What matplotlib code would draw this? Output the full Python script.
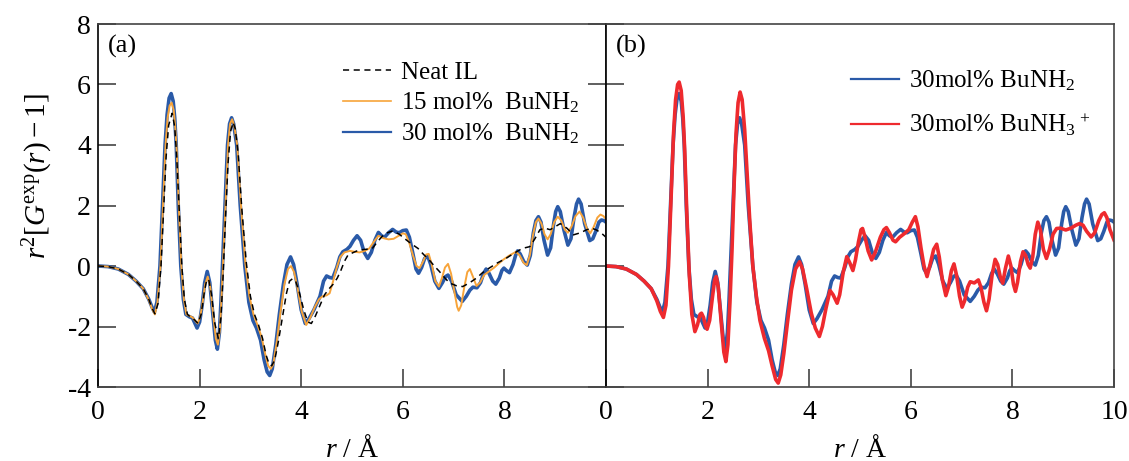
import matplotlib
matplotlib.use("Agg")
import matplotlib.pyplot as plt
from matplotlib.lines import Line2D
import numpy as np

plt.rcParams['font.family'] = ['Liberation Serif', 'DejaVu Serif']
plt.rcParams['mathtext.fontset'] = 'custom'
plt.rcParams['mathtext.rm'] = 'Liberation Serif'
plt.rcParams['mathtext.it'] = 'Liberation Serif:italic'
plt.rcParams['axes.unicode_minus'] = False

# --- data: (r, r^2[G(r)-1]) ---
neat_pts = [(0, 0), (0.2, -0.02), (0.4, -0.1), (0.6, -0.28), (0.75, -0.5), (0.89, -0.75), (1.0, -1.1),
            (1.06, -1.38), (1.12, -1.58), (1.18, -1.25), (1.24, 0.0), (1.29, 1.8), (1.34, 3.6), (1.39, 4.65),
            (1.46, 5.05), (1.51, 4.6), (1.55, 3.6), (1.6, 1.8), (1.65, 0.0), (1.7, -1.1), (1.76, -1.6),
            (1.83, -1.7), (1.9, -1.78), (1.97, -1.9), (2.03, -1.6), (2.09, -0.9), (2.14, -0.45), (2.18, -0.45),
            (2.23, -0.9), (2.3, -1.9), (2.37, -2.4), (2.42, -1.7), (2.46, -0.4), (2.51, 1.6), (2.56, 3.4),
            (2.61, 4.45), (2.66, 4.75), (2.7, 4.55), (2.76, 3.7), (2.83, 1.9), (2.92, 0.1), (3.0, -1.0),
            (3.08, -1.6), (3.16, -1.95), (3.24, -2.4), (3.31, -2.95), (3.37, -3.25), (3.42, -3.3), (3.48, -3.1),
            (3.55, -2.5), (3.63, -1.7), (3.71, -0.9), (3.77, -0.5), (3.83, -0.42), (3.89, -0.5), (3.96, -0.85),
            (4.05, -1.45), (4.13, -1.85), (4.2, -1.9), (4.28, -1.65), (4.37, -1.3), (4.46, -0.95), (4.55, -0.75),
            (4.63, -0.6), (4.71, -0.4), (4.78, -0.15), (4.85, 0.15), (4.92, 0.36), (5.03, 0.45), (5.14, 0.53),
            (5.27, 0.55), (5.4, 0.58), (5.5, 0.8), (5.6, 0.99), (5.7, 1.1), (5.8, 1.16), (5.93, 1.05),
            (6.07, 0.86), (6.18, 0.72), (6.3, 0.58), (6.41, 0.38), (6.52, 0.2), (6.62, 0.0), (6.72, -0.18),
            (6.82, -0.38), (6.92, -0.56), (7.05, -0.65), (7.18, -0.68), (7.32, -0.55), (7.45, -0.4),
            (7.57, -0.22), (7.7, -0.07), (7.86, 0.1), (8.03, 0.25), (8.17, 0.4), (8.3, 0.53), (8.4, 0.6),
            (8.5, 0.64), (8.6, 0.9), (8.7, 1.2), (8.8, 1.25), (8.9, 1.2), (9.0, 1.3), (9.1, 1.4), (9.23, 1.25),
            (9.36, 1.03), (9.5, 1.1), (9.62, 1.2), (9.72, 1.25), (9.8, 1.2), (9.9, 1.1), (10.0, 0.95)]

bu15_pts = [(0, 0), (0.2, -0.02), (0.4, -0.1), (0.6, -0.28), (0.75, -0.5), (0.89, -0.75), (1.0, -1.12),
            (1.06, -1.4), (1.12, -1.6), (1.17, -1.2), (1.23, 0.0), (1.28, 2.0), (1.33, 4.0), (1.37, 4.9),
            (1.41, 5.3), (1.45, 5.4), (1.49, 5.15), (1.52, 4.6), (1.55, 3.8), (1.59, 2.0), (1.64, 0.0),
            (1.69, -1.1), (1.74, -1.6), (1.8, -1.65), (1.86, -1.7), (1.91, -1.8), (1.96, -1.9), (2.01, -1.7),
            (2.06, -1.2), (2.11, -0.6), (2.16, -0.35), (2.21, -0.7), (2.27, -1.65), (2.32, -2.4), (2.36, -2.6),
            (2.4, -2.1), (2.43, -1.1), (2.46, 0.0), (2.51, 2.0), (2.56, 4.0), (2.6, 4.7), (2.64, 4.85),
            (2.68, 4.65), (2.74, 4.0), (2.81, 2.1), (2.9, 0.1), (2.98, -1.0), (3.06, -1.6), (3.14, -1.95),
            (3.22, -2.35), (3.29, -2.9), (3.35, -3.3), (3.4, -3.4), (3.45, -3.25), (3.52, -2.5), (3.59, -1.55),
            (3.67, -0.6), (3.74, -0.1), (3.8, 0.0), (3.86, -0.2), (3.93, -0.75), (4.01, -1.5), (4.1, -1.95),
            (4.18, -1.7), (4.27, -1.35), (4.35, -1.1), (4.42, -1.0), (4.5, -0.97), (4.56, -0.9), (4.62, -0.55),
            (4.7, -0.05), (4.77, 0.3), (4.85, 0.45), (4.96, 0.5), (5.05, 0.47), (5.15, 0.45), (5.25, 0.5),
            (5.34, 0.58), (5.43, 0.8), (5.52, 1.0), (5.62, 0.92), (5.72, 0.88), (5.82, 0.9), (5.92, 1.0),
            (6.0, 1.08), (6.06, 1.05), (6.13, 0.75), (6.2, 0.35), (6.27, 0.0), (6.33, -0.07), (6.4, 0.15),
            (6.46, 0.38), (6.51, 0.4), (6.57, 0.05), (6.64, -0.5), (6.71, -0.68), (6.77, -0.4), (6.83, -0.05),
            (6.89, 0.07), (6.95, -0.25), (7.02, -0.9), (7.07, -1.35), (7.1, -1.48), (7.15, -1.3), (7.21, -0.7),
            (7.27, -0.2), (7.32, -0.1), (7.38, -0.35), (7.45, -0.66), (7.52, -0.55), (7.6, -0.3), (7.68, -0.2),
            (7.8, -0.05), (7.9, 0.1), (7.97, 0.2), (8.1, 0.35), (8.23, 0.47), (8.3, 0.35), (8.38, 0.1),
            (8.44, 0.03), (8.5, 0.35), (8.56, 1.0), (8.62, 1.45), (8.67, 1.57), (8.73, 1.4), (8.79, 1.05),
            (8.85, 0.88), (8.91, 1.05), (8.98, 1.45), (9.05, 1.63), (9.12, 1.5), (9.19, 1.2), (9.25, 1.1),
            (9.32, 1.3), (9.4, 1.65), (9.48, 1.8), (9.55, 1.6), (9.62, 1.25), (9.69, 1.08), (9.76, 1.3),
            (9.83, 1.6), (9.89, 1.7), (9.95, 1.65), (10.0, 1.55)]

bu30_pts = [(0, 0), (0.2, -0.02), (0.4, -0.1), (0.6, -0.28), (0.75, -0.5), (0.89, -0.75), (1.0, -1.1),
            (1.06, -1.35), (1.11, -1.52), (1.16, -1.2), (1.22, 0.0), (1.27, 2.0), (1.32, 4.0), (1.36, 5.0),
            (1.4, 5.55), (1.44, 5.7), (1.48, 5.45), (1.51, 4.9), (1.54, 4.0), (1.58, 2.0), (1.63, 0.0),
            (1.68, -1.1), (1.73, -1.6), (1.8, -1.68), (1.86, -1.72), (1.91, -1.9), (1.95, -2.05), (2.0, -1.85),
            (2.05, -1.3), (2.1, -0.55), (2.15, -0.18), (2.2, -0.55), (2.26, -1.6), (2.31, -2.45), (2.35, -2.75),
            (2.39, -2.2), (2.42, -1.2), (2.45, 0.0), (2.5, 2.0), (2.55, 4.0), (2.59, 4.7), (2.63, 4.9),
            (2.67, 4.7), (2.73, 4.0), (2.8, 2.0), (2.89, 0.0), (2.97, -1.2), (3.05, -1.8), (3.12, -2.05),
            (3.2, -2.45), (3.27, -3.1), (3.33, -3.5), (3.38, -3.62), (3.43, -3.4), (3.5, -2.6), (3.57, -1.6),
            (3.65, -0.6), (3.72, 0.05), (3.79, 0.3), (3.85, 0.05), (3.92, -0.6), (4.0, -1.45), (4.08, -1.9),
            (4.15, -1.75), (4.25, -1.45), (4.37, -1.0), (4.44, -0.5), (4.5, -0.33), (4.56, -0.38), (4.62, -0.4),
            (4.7, -0.05), (4.76, 0.3), (4.82, 0.47), (4.9, 0.55), (4.96, 0.65), (5.03, 0.85), (5.1, 1.0),
            (5.17, 0.85), (5.24, 0.45), (5.31, 0.25), (5.38, 0.45), (5.45, 0.85), (5.52, 1.11), (5.58, 1.0),
            (5.64, 0.95), (5.72, 1.1), (5.8, 1.21), (5.87, 1.12), (5.93, 1.1), (6.0, 1.17), (6.07, 1.19),
            (6.13, 0.95), (6.2, 0.4), (6.26, -0.1), (6.31, -0.24), (6.37, -0.05), (6.43, 0.25), (6.49, 0.33),
            (6.55, 0.05), (6.63, -0.5), (6.71, -0.74), (6.78, -0.55), (6.84, -0.35), (6.89, -0.3), (6.96, -0.5),
            (7.05, -0.95), (7.17, -1.17), (7.25, -1.0), (7.32, -0.8), (7.38, -0.7), (7.46, -0.72), (7.53, -0.55),
            (7.59, -0.25), (7.64, -0.1), (7.7, -0.25), (7.77, -0.5), (7.83, -0.6), (7.9, -0.4), (7.95, -0.15),
            (7.99, -0.07), (8.04, -0.15), (8.1, -0.22), (8.17, 0.05), (8.22, 0.35), (8.26, 0.5), (8.31, 0.4),
            (8.38, 0.15), (8.45, 0.03), (8.51, 0.35), (8.57, 1.1), (8.62, 1.5), (8.67, 1.63), (8.72, 1.45),
            (8.78, 0.85), (8.85, 0.36), (8.91, 0.6), (8.97, 1.4), (9.01, 1.8), (9.05, 1.96), (9.1, 1.8),
            (9.17, 1.2), (9.25, 0.69), (9.31, 0.9), (9.37, 1.6), (9.42, 2.05), (9.46, 2.21), (9.51, 2.05),
            (9.58, 1.4), (9.68, 0.84), (9.74, 0.9), (9.8, 1.15), (9.86, 1.45), (9.91, 1.52), (9.96, 1.5),
            (10.0, 1.45)]

bu3p_pts = [(0, 0), (0.2, -0.02), (0.4, -0.1), (0.6, -0.28), (0.75, -0.5), (0.89, -0.75), (1.0, -1.15),
            (1.07, -1.5), (1.13, -1.7), (1.18, -1.3), (1.23, 0.0), (1.28, 2.2), (1.33, 4.4), (1.37, 5.5),
            (1.41, 6.0), (1.44, 6.08), (1.48, 5.8), (1.52, 4.9), (1.55, 3.8), (1.59, 1.8), (1.64, -0.3),
            (1.69, -1.6), (1.75, -2.17), (1.8, -1.95), (1.85, -1.6), (1.88, -1.56), (1.92, -1.7), (1.96, -2.0),
            (1.99, -2.09), (2.04, -1.8), (2.09, -1.1), (2.14, -0.45), (2.17, -0.35), (2.21, -0.7), (2.27, -1.9),
            (2.32, -2.85), (2.36, -3.16), (2.4, -2.6), (2.44, -1.2), (2.48, 0.5), (2.52, 2.6), (2.56, 4.4),
            (2.6, 5.4), (2.64, 5.75), (2.68, 5.5), (2.73, 4.5), (2.78, 3.0), (2.83, 1.5), (2.89, 0.0),
            (2.96, -1.0), (3.03, -1.8), (3.12, -2.4), (3.2, -2.8), (3.27, -3.3), (3.34, -3.75), (3.39, -3.87),
            (3.44, -3.6), (3.5, -2.9), (3.57, -1.9), (3.65, -0.8), (3.73, -0.1), (3.81, 0.14), (3.87, -0.1),
            (3.95, -0.75), (4.04, -1.55), (4.12, -2.05), (4.2, -2.33), (4.26, -2.0), (4.33, -1.4), (4.41, -0.81),
            (4.47, -0.95), (4.55, -1.23), (4.6, -0.95), (4.67, -0.2), (4.74, 0.31), (4.8, 0.1), (4.86, -0.15),
            (4.91, 0.2), (4.97, 0.8), (5.02, 1.2), (5.05, 1.24), (5.1, 0.95), (5.16, 0.5), (5.23, 0.2),
            (5.3, 0.45), (5.4, 0.95), (5.47, 1.2), (5.52, 1.27), (5.58, 1.1), (5.65, 0.85), (5.7, 0.8),
            (5.78, 0.95), (5.88, 1.08), (5.96, 1.2), (6.03, 1.45), (6.09, 1.63), (6.14, 1.3), (6.2, 0.6),
            (6.26, 0.0), (6.32, -0.35), (6.38, 0.05), (6.45, 0.55), (6.51, 0.72), (6.56, 0.3), (6.62, -0.45),
            (6.69, -0.98), (6.74, -0.7), (6.8, -0.15), (6.85, 0.07), (6.9, -0.3), (6.96, -1.0), (7.01, -1.36),
            (7.06, -1.15), (7.12, -0.7), (7.17, -0.52), (7.25, -0.56), (7.33, -0.46), (7.38, -0.7), (7.44, -1.2),
            (7.49, -1.48), (7.54, -1.1), (7.6, -0.3), (7.66, 0.22), (7.71, 0.05), (7.76, -0.35), (7.81, -0.57),
            (7.86, -0.1), (7.92, 0.33), (7.97, 0.0), (8.02, -0.6), (8.06, -0.84), (8.1, -0.55), (8.16, 0.15),
            (8.21, 0.47), (8.26, 0.35), (8.31, 0.05), (8.35, -0.07), (8.4, 0.3), (8.45, 1.05), (8.5, 1.45),
            (8.55, 1.2), (8.61, 0.55), (8.67, 0.25), (8.73, 0.55), (8.8, 1.05), (8.87, 1.24), (8.95, 1.25),
            (9.05, 1.19), (9.15, 1.25), (9.25, 1.35), (9.32, 1.4), (9.39, 1.35), (9.46, 1.15), (9.55, 0.96),
            (9.62, 1.1), (9.7, 1.5), (9.76, 1.7), (9.81, 1.76), (9.86, 1.6), (9.92, 1.2), (10.0, 0.86)]

r_neat, g_neat = np.array(neat_pts).T
r_15, g_15 = np.array(bu15_pts).T
r_30, g_30 = np.array(bu30_pts).T
r_3p, g_3p = np.array(bu3p_pts).T

xticks_a = [0, 2, 4, 6, 8]
xticks_b = [0, 2, 4, 6, 8, 10]
yticks = [-4, -2, 0, 2, 4, 6, 8]
labels_a = ['Neat IL', r'15 mol%  BuNH$_2$', r'30 mol%  BuNH$_2$']
labels_b = [r'30mol% BuNH$_2$', r'30mol% BuNH$_3$$^{\,+}$']

c_blue = '#2a5aa8'
c_orange = '#f7a43a'
c_red = '#ee2a2e'
dash = (0, (4, 3))

fig = plt.figure(figsize=(11.29, 4.61), dpi=100)
W, H = 1129, 461
ax1 = fig.add_axes([98 / W, (H - 387) / H, 508 / W, 363 / H])
ax2 = fig.add_axes([606 / W, (H - 387) / H, 508 / W, 363 / H])

# panel (a)
ax1.plot(r_30, g_30, color=c_blue, lw=2.6, solid_joinstyle='round')
ax1.plot(r_15, g_15, color=c_orange, lw=1.4, solid_joinstyle='round')
ax1.plot(r_neat, g_neat, color='black', lw=1.1, ls=dash)

# panel (b)
ax2.plot(r_30, g_30, color=c_blue, lw=2.6, solid_joinstyle='round')
ax2.plot(r_3p, g_3p, color=c_red, lw=2.6, solid_joinstyle='round')

for ax in (ax1, ax2):
    ax.set_xlim(0, 10)
    ax.set_ylim(-4, 8)
    ax.set_yticks(yticks)
    for s in ax.spines.values():
        s.set_color('#444444')
        s.set_linewidth(1.2)
    ax.tick_params(direction='in', length=13, width=1.2, color='#444444',
                   labelsize=20, pad=9)
    ax.set_xlabel(r'$r$ / Å', fontsize=20, labelpad=8)

ax1.spines['left'].set_color('black')
ax1.set_xticks(xticks_a)
ax1.tick_params(axis='y', right=True, pad=5)
ax1.set_ylabel(r'$r^2[G^{\mathrm{exp}}(r) - 1]$', fontsize=21)
ax1.yaxis.set_label_coords(-0.085, 0.58)

ax2.set_xticks(xticks_b)
ax2.tick_params(axis='y', left=True, right=False, labelleft=False)
ax2.spines['left'].set_color('black')

ax1.text(0.019, 0.97, '(a)', transform=ax1.transAxes, fontsize=19, va='top', ha='left')
ax2.text(0.019, 0.97, '(b)', transform=ax2.transAxes, fontsize=19, va='top', ha='left')

h1 = [Line2D([], [], color='black', lw=1.1, ls=dash),
      Line2D([], [], color=c_orange, lw=1.2),
      Line2D([], [], color=c_blue, lw=1.6)]
ax1.legend(h1, labels_a, loc='upper left', bbox_to_anchor=(0.463, 0.925), frameon=False, fontsize=18,
           handlelength=1.9, handletextpad=0.4, labelspacing=0.27, borderaxespad=0)

h2 = [Line2D([], [], color=c_blue, lw=1.6),
      Line2D([], [], color=c_red, lw=1.6)]
ax2.legend(h2, labels_b, loc='upper left', bbox_to_anchor=(0.463, 0.905), frameon=False, fontsize=18,
           handlelength=1.9, handletextpad=0.4, labelspacing=0.75, borderaxespad=0)

fig.savefig('out.png', dpi=100)
